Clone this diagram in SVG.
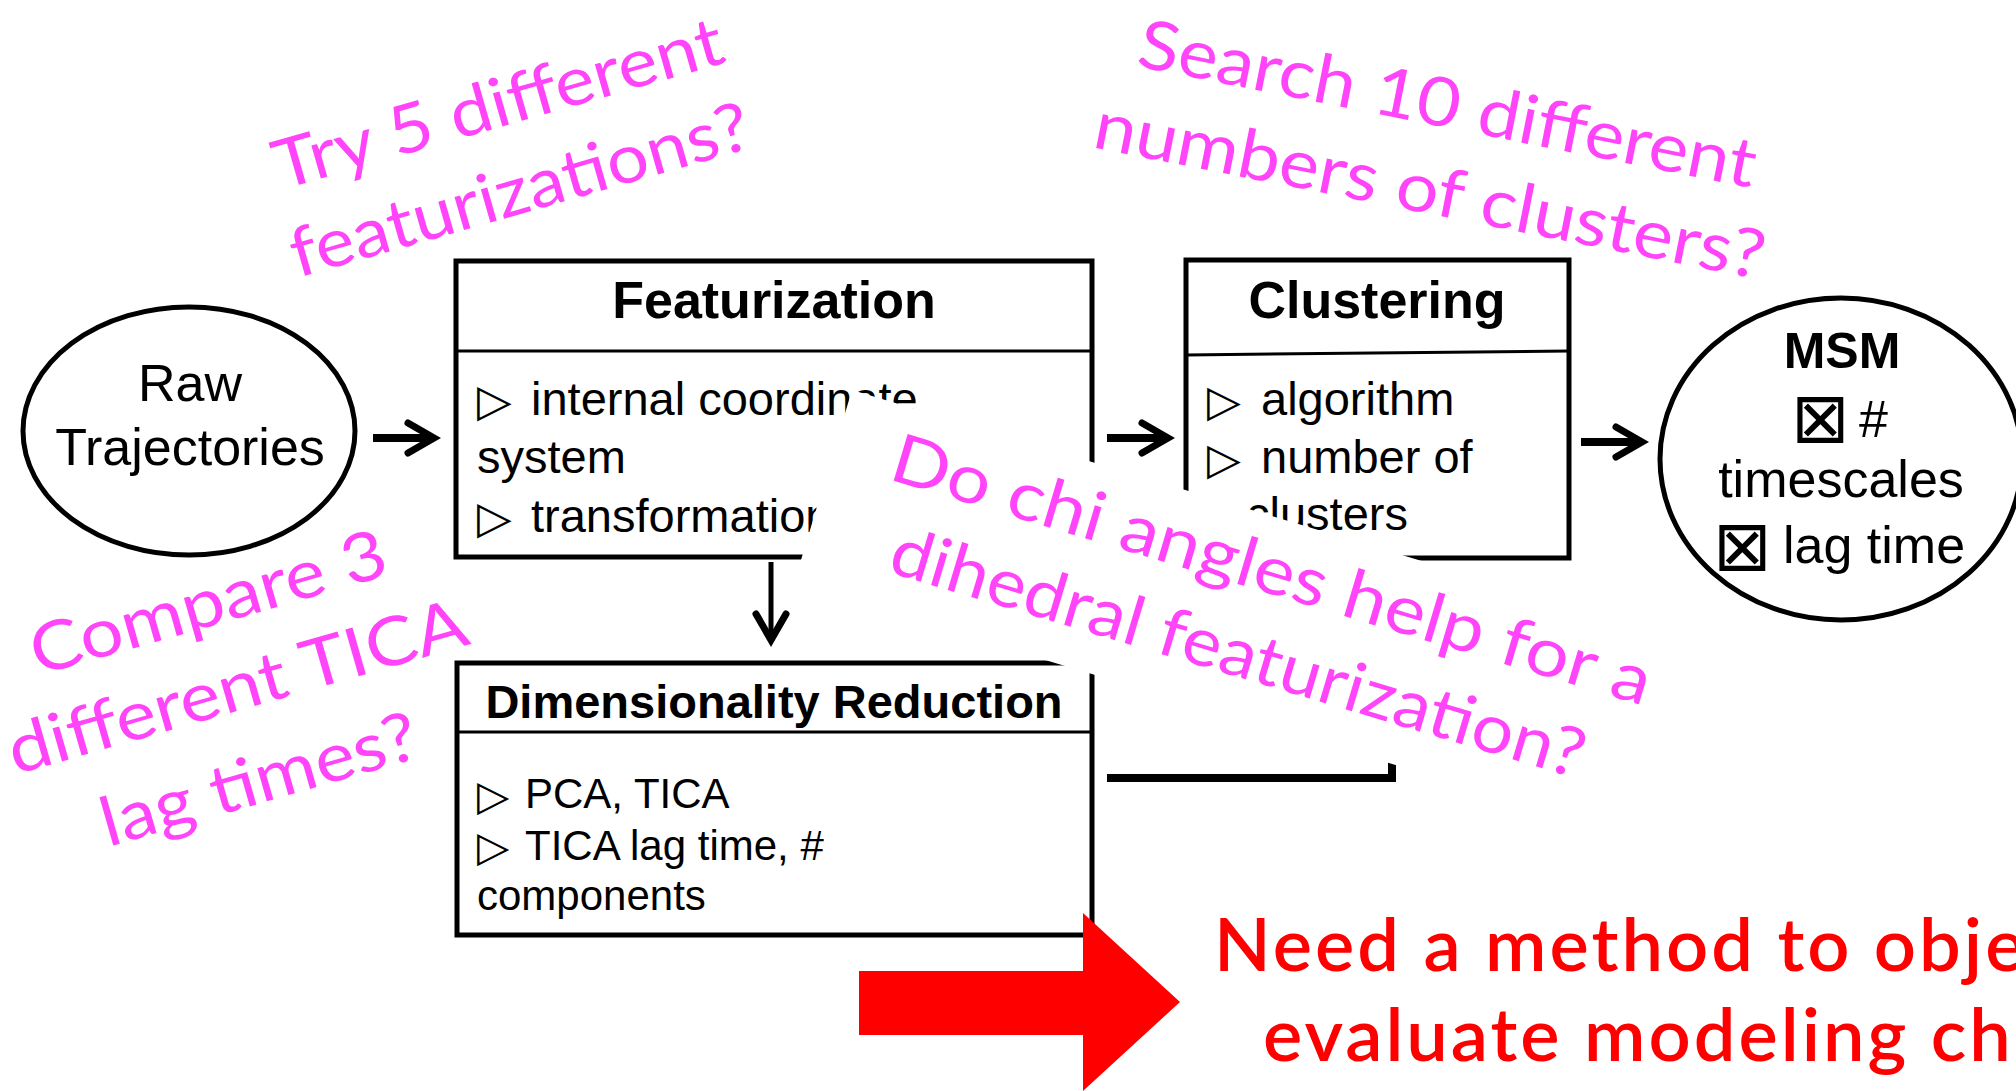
<svg xmlns="http://www.w3.org/2000/svg" width="2016" height="1091" viewBox="0 0 2016 1091">
  <style>
    .frame { fill: #fff; stroke: #000; stroke-width: 5; }
    .rule { stroke: #000; stroke-width: 3; fill: none; }
    .head { font-family: "Liberation Sans", Arial, sans-serif; font-weight: bold; fill: #000; }
    .body { font-family: "Liberation Sans", Arial, sans-serif; fill: #000; }
    .sym { font-family: "DejaVu Sans", sans-serif; font-weight: 200; fill: #000; }
    .conn { stroke: #000; stroke-width: 8; fill: none; }
    .note { font-family: Lato, "Open Sans", sans-serif; font-size: 68px; fill: #ff44fa; }
    .call { font-family: Lato, "Open Sans", sans-serif; font-weight: 600; font-size: 74px; letter-spacing: 3px; fill: #ff0000; }
  </style>
  <defs>
    <marker id="chev" viewBox="-40 -30 60 60" markerWidth="60" markerHeight="60" refX="0" refY="0" orient="auto" markerUnits="userSpaceOnUse" overflow="visible">
      <path d="M-26,-15 L0,0 L-26,15" fill="none" stroke="#000" stroke-width="7" stroke-linecap="round"/>
    </marker>
  </defs>

  <!-- pipeline connectors -->
  <g id="connectors">
    <path class="conn" d="M373,438 H434" marker-end="url(#chev)"/>
    <path class="conn" d="M1107,438 H1168" marker-end="url(#chev)"/>
    <path class="conn" d="M1581,442 H1642" marker-end="url(#chev)"/>
    <path class="conn" style="stroke-width:5" d="M771,562 V640" marker-end="url(#chev)"/>
    <path class="conn" d="M1107,778 H1392 V560"/>
  </g>

  <!-- raw input -->
  <g id="raw-trajectories">
    <ellipse class="frame" cx="189" cy="431" rx="166" ry="124"/>
    <text class="body" font-size="52" text-anchor="middle" x="190" y="401">Raw</text>
    <text class="body" font-size="52" text-anchor="middle" x="190" y="465">Trajectories</text>
  </g>

  <!-- featurization stage -->
  <g id="featurization">
    <rect class="frame" x="456" y="261" width="636" height="296"/>
    <line class="rule" x1="456" y1="351" x2="1092" y2="351"/>
    <text class="head" font-size="52" text-anchor="middle" x="774" y="318">Featurization</text>
    <text class="sym" font-size="45" x="477" y="416">▷</text>
    <text class="body" font-size="47" x="531" y="415">internal coordinate</text>
    <text class="body" font-size="47" x="477" y="473">system</text>
    <text class="sym" font-size="45" x="477" y="533">▷</text>
    <text class="body" font-size="47" x="531" y="532">transformation</text>
  </g>

  <!-- clustering stage -->
  <g id="clustering">
    <rect class="frame" x="1186" y="260" width="383" height="298"/>
    <line class="rule" x1="1186" y1="355" x2="1569" y2="351"/>
    <text class="head" font-size="52" text-anchor="middle" x="1377" y="318">Clustering</text>
    <text class="sym" font-size="44" x="1207" y="416">▷</text>
    <text class="body" font-size="47" x="1261" y="415">algorithm</text>
    <text class="sym" font-size="44" x="1207" y="474">▷</text>
    <text class="body" font-size="47" x="1261" y="473">number of</text>
    <text class="body" font-size="47" x="1246" y="530">clusters</text>
  </g>

  <!-- model output -->
  <g id="msm">
    <ellipse class="frame" cx="1841" cy="459" rx="181" ry="161"/>
    <text class="head" font-size="50" text-anchor="middle" x="1842" y="368">MSM</text>
    <text class="sym" font-size="70" x="1791" y="442">⊠</text>
    <text class="body" font-size="52" x="1859" y="437">#</text>
    <text class="body" font-size="52" text-anchor="middle" x="1841" y="497">timescales</text>
    <text class="sym" font-size="70" x="1713" y="570">⊠</text>
    <text class="body" font-size="52" x="1783" y="563">lag time</text>
  </g>

  <!-- dimensionality reduction stage -->
  <g id="dimensionality-reduction">
    <rect class="frame" x="457" y="663" width="635" height="272"/>
    <line class="rule" x1="457" y1="732" x2="1092" y2="732"/>
    <text class="head" font-size="47" text-anchor="middle" x="774" y="718">Dimensionality Reduction</text>
    <text class="sym" font-size="42" x="477" y="810">▷</text>
    <text class="body" font-size="42" x="525" y="808">PCA, TICA</text>
    <text class="sym" font-size="42" x="477" y="861">▷</text>
    <text class="body" font-size="42" x="525" y="860">TICA lag time, #</text>
    <text class="body" font-size="42" x="477" y="910">components</text>
  </g>

  <!-- questions about each modeling choice -->
  <g id="note-featurizations" transform="translate(281,190) rotate(-16)">
    <text class="note" x="0" y="0" textLength="465" lengthAdjust="spacingAndGlyphs">Try 5 different</text>
    <text class="note" x="-8" y="89" textLength="475" lengthAdjust="spacingAndGlyphs">featurizations?</text>
  </g>
  <g id="note-clusters" transform="translate(1135,66) rotate(11.2)">
    <text class="note" x="0" y="0" textLength="628" lengthAdjust="spacingAndGlyphs">Search 10 different</text>
    <text class="note" x="-27.5" y="88" textLength="682" lengthAdjust="spacingAndGlyphs">numbers of clusters?</text>
  </g>
  <g id="note-tica" transform="translate(214.5,625) rotate(-16)">
    <text class="note" text-anchor="middle" x="0" y="0" textLength="368" lengthAdjust="spacingAndGlyphs">Compare 3</text>
    <text class="note" text-anchor="middle" x="4.6" y="89" textLength="475" lengthAdjust="spacingAndGlyphs">different TICA</text>
    <text class="note" text-anchor="middle" x="0" y="184" textLength="327" lengthAdjust="spacingAndGlyphs">lag times?</text>
  </g>
  <g id="note-chi" transform="translate(852,390) rotate(16.7)">
    <rect x="0" y="0" width="880" height="203" fill="#fff"/>
    <text class="note" x="59" y="75" textLength="790" lengthAdjust="spacingAndGlyphs">Do chi angles help for a</text>
    <text class="note" x="85" y="164" textLength="721" lengthAdjust="spacingAndGlyphs">dihedral featurization?</text>
  </g>

  <!-- conclusion -->
  <g id="conclusion">
    <polygon points="859,971 1083,971 1083,913 1180,1002 1083,1091 1083,1035 859,1035" fill="#ff0000"/>
    <text class="call" x="1214" y="971">Need a method to objectively</text>
    <text class="call" x="1263" y="1061">evaluate modeling choices</text>
  </g>
</svg>
